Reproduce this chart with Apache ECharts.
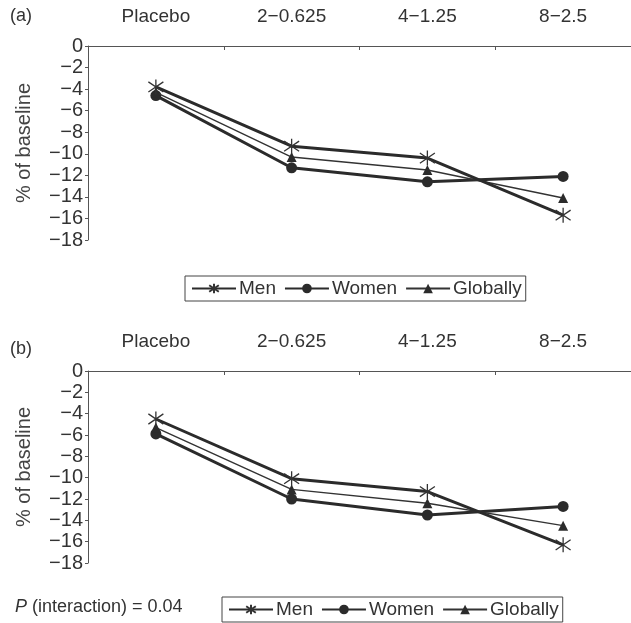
<!DOCTYPE html>
<html><head><meta charset="utf-8">
<script src="https://cdn.jsdelivr.net/npm/echarts@6/dist/echarts.min.js"></script>
<style>html,body{margin:0;padding:0;background:#fff}#c{width:631px;height:623px}</style>
</head><body><div id="c"></div>
<script>
var categories = ['Placebo', '2\u22120.625', '4\u22121.25', '8\u22122.5'];
var yTicks = [0, -2, -4, -6, -8, -10, -12, -14, -16, -18];
var menA = [-3.8, -9.3, -10.4, -15.7];
var womenA = [-4.6, -11.3, -12.6, -12.1];
var globalA = [-4.3, -10.3, -11.5, -14.1];
var menB = [-4.5, -10.1, -11.3, -16.3];
var womenB = [-5.9, -12.0, -13.5, -12.7];
var globalB = [-5.3, -11.1, -12.4, -14.5];
var seriesNames = ['Men', 'Women', 'Globally'];

var ink = '#2b2b2b';
var font = 'Liberation Sans, Arial, sans-serif';
var star = 'path://M5,0L5,10M0.9,1.6L9.1,8.4M0.9,8.4L9.1,1.6';

function xAx(gi) {
  return {
    type: 'category', gridIndex: gi, data: categories, position: 'top',
    boundaryGap: true,
    axisLine: {show: true, lineStyle: {color: '#555', width: 1}},
    axisTick: {show: true, inside: true, length: 4, lineStyle: {color: '#555'}},
    axisLabel: {color: '#333', fontSize: 19, fontFamily: font, margin: 20},
    splitLine: {show: false}
  };
}
function yAx(gi) {
  return {
    type: 'value', gridIndex: gi, min: -18, max: 0, interval: 2,
    name: '% of baseline', nameLocation: 'middle', nameGap: 54, nameRotate: 90,
    nameTextStyle: {color: '#444', fontSize: 20, fontFamily: font},
    axisLine: {show: true, lineStyle: {color: '#555', width: 1}},
    axisTick: {show: true, length: 3, lineStyle: {color: '#555'}},
    axisLabel: {color: '#333', fontSize: 20, fontFamily: font, margin: 5,
      formatter: function (v) { return v < 0 ? '\u2212' + Math.abs(v) : String(v); }},
    splitLine: {show: false}
  };
}
function mk(name, data, gi) {
  var s = {type: 'line', name: name, data: data, xAxisIndex: gi, yAxisIndex: gi,
    animation: false, showSymbol: true};
  if (name === 'Men') {
    s.symbol = star; s.symbolSize = 15; s.z = 5;
    s.lineStyle = {color: ink, width: 3};
    s.itemStyle = {color: ink, borderColor: '#333', borderWidth: 1.3};
  } else if (name === 'Women') {
    s.symbol = 'circle'; s.symbolSize = 11; s.z = 3;
    s.lineStyle = {color: ink, width: 3};
    s.itemStyle = {color: ink, borderWidth: 0};
  } else {
    s.symbol = 'triangle'; s.symbolSize = 10; s.z = 4;
    s.lineStyle = {color: '#333', width: 1.4};
    s.itemStyle = {color: ink, borderWidth: 0};
  }
  return s;
}
function lg(left, top) {
  return {
    data: seriesNames, left: left, top: top, orient: 'horizontal',
    itemWidth: 44, itemHeight: 12, itemGap: 8, padding: [3, 4, 3, 6],
    borderColor: '#444', borderWidth: 1, selectedMode: false,
    textStyle: {color: '#333', fontSize: 19, fontFamily: font, padding: [0, 0, 0, -2]}
  };
}

var chart = echarts.init(document.getElementById('c'), null, {renderer: 'canvas'});
chart.setOption({
  backgroundColor: '#fff',
  animation: false,
  grid: [
    {left: 88, right: 0, top: 46, height: 194},
    {left: 88, right: 0, top: 371, height: 192}
  ],
  xAxis: [xAx(0), xAx(1)],
  yAxis: [yAx(0), yAx(1)],
  legend: [lg(185, 276), lg(222, 597)],
  graphic: [
    {type: 'text', left: 10, top: 7, style: {text: '(a)', fontSize: 18, fontFamily: font, fill: '#333'}},
    {type: 'text', left: 10, top: 340, style: {text: '(b)', fontSize: 18, fontFamily: font, fill: '#333'}},
    {type: 'text', left: 15, top: 598, style: {
      text: '{i|P} (interaction) = 0.04', fontSize: 18, fontFamily: font, fill: '#333',
      rich: {i: {fontStyle: 'italic', fontSize: 18, fontFamily: font, fill: '#333'}}}}
  ],
  series: [
    mk('Women', womenA, 0), mk('Globally', globalA, 0), mk('Men', menA, 0),
    mk('Women', womenB, 1), mk('Globally', globalB, 1), mk('Men', menB, 1)
  ]
});
</script></body></html>
